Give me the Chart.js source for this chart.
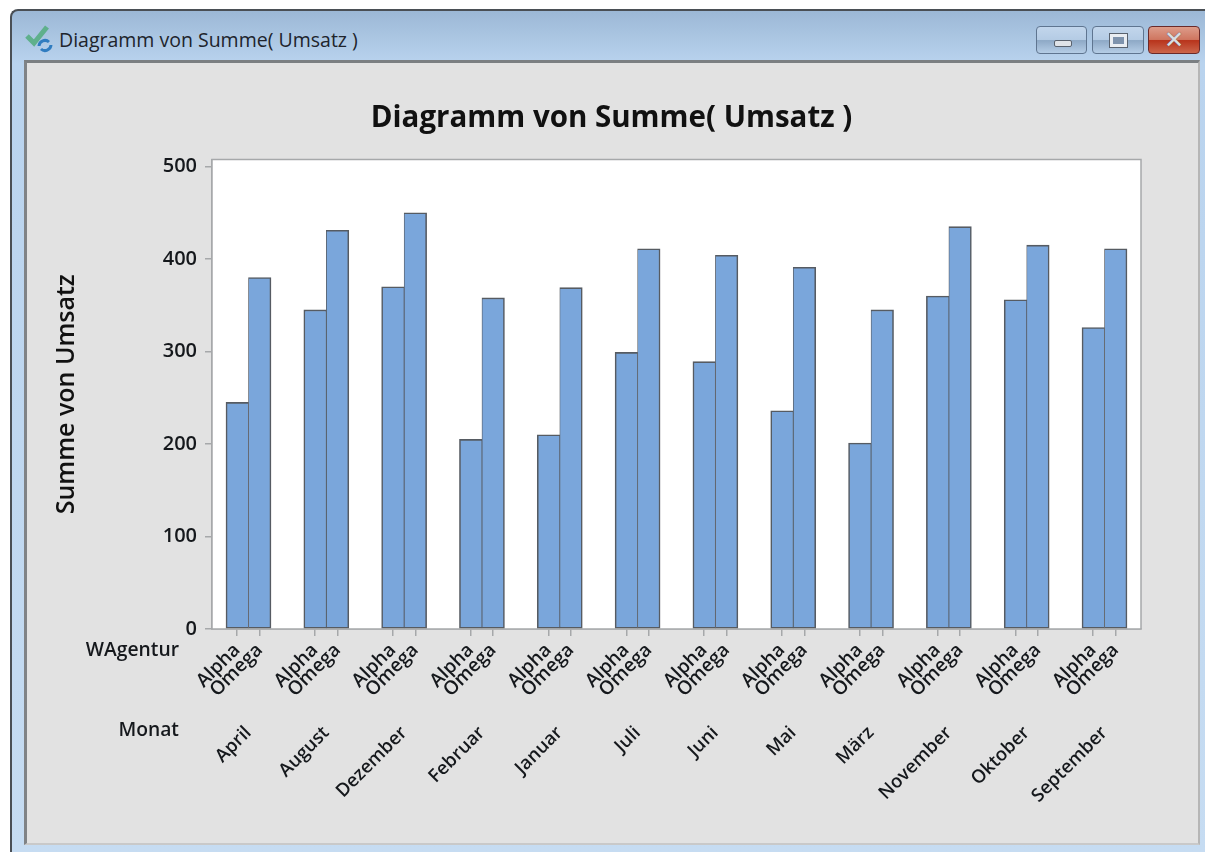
<!DOCTYPE html>
<html><head><meta charset="utf-8">
<script src="https://cdn.jsdelivr.net/npm/chart.js@4/dist/chart.umd.min.js"></script>
<style>
html,body{margin:0;padding:0;background:#fff;width:1205px;height:852px;overflow:hidden;font-family:"Open Sans",sans-serif}
#win{position:absolute;left:10px;top:9px;width:1195px;height:843px;box-sizing:border-box;border:2px solid #4a4f55;border-right:none;border-bottom:none;border-top-left-radius:8px;background:linear-gradient(to bottom,#9cb8d6 0,#b9d3ee 52px,#c6dcf2 100%)}
#pane{position:absolute;left:24px;top:60px;width:1176px;height:785px;box-sizing:border-box;background:#e2e2e2;border-top:3px solid #7b7f82;border-left:3px solid #808386;border-right:2px solid #b6b6b6;border-bottom:2px solid #c9c9c9}
#cap{position:absolute;left:59px;top:28px;font-size:19.5px;line-height:24px;color:#20242c;white-space:nowrap}
#ico{position:absolute;left:25px;top:24px}
.btn{position:absolute;top:26px;height:28px;box-sizing:border-box;border:1px solid #5f7590;border-radius:4px;background:linear-gradient(to bottom,#c2d6ec 0,#b4cbe4 50%,#8ea9c6 52%,#b5cde6 100%)}
.btn i{position:absolute;display:block;box-sizing:border-box}
#b1{left:1036px;width:51px}#b1 i{left:17px;top:13px;width:18px;height:7px;background:#dfe3e8;border:1.5px solid #59626e;border-radius:2px}
#b2{left:1092px;width:52px}#b2 i{left:17px;top:7px;width:17px;height:13px;border:3px solid #e9edf2;outline:1px solid #59626e;background:#7e93ad}
#b3{left:1148px;width:52px;border-color:#6a2a2a;background:linear-gradient(to bottom,#dd9c8a 0,#cf7660 48%,#b8341c 52%,#cc664c 100%)}
#b3 span{position:absolute;left:0;top:-2px;width:100%;text-align:center;font:bold 24px "DejaVu Sans",sans-serif;color:#d9dde2;line-height:30px;text-shadow:0 0 1px #444}
#lblA,#lblM{position:absolute;font-size:19.3px;font-weight:600;color:#15181c;line-height:24px;white-space:nowrap}
#lblA{right:1026px;top:637px}#lblM{right:1026px;top:717px}
canvas{position:absolute;left:0;top:0}
</style></head><body>
<div id="win"></div><div id="pane"></div>
<svg id="ico" width="30" height="30" viewBox="0 0 30 30"><path d="M2 12l7 7L22 3" fill="none" stroke="#5fb08c" stroke-width="5"/><path d="M14 22a6 6 0 0 1 10-4M26 21a6 6 0 0 1-10 4" fill="none" stroke="#2f7cc0" stroke-width="3"/></svg>
<div id="cap">Diagramm von Summe( Umsatz )</div>
<div class="btn" id="b1"><i></i></div><div class="btn" id="b2"><i></i></div><div class="btn" id="b3"><span>✕</span></div>
<canvas id="c" width="1205" height="852"></canvas>
<div id="lblA">WAgentur</div><div id="lblM">Monat</div>
<script>
const months=["April","August","Dezember","Februar","Januar","Juli","Juni","Mai","März","November","Oktober","September"];
const groups=["Alpha","Omega"];
const alpha=[245,345,370,205,210,299,289,236,201,360,356,326];
const omega=[380,431,450,358,369,411,404,391,345,435,415,411];
const yTicks=[0,100,200,300,400,500];
const textCol="#15181c",lineCol="#a6a8aa",barCol="#7aa6db",edgeCol="#565b62";
const font="'Open Sans',sans-serif";
const xMin=-0.469,xMax=11.469,barOff=0.145;
const xRange={type:'linear',min:xMin,max:xMax,offset:false};
new Chart(document.getElementById('c'),{
 type:'bar',
 data:{datasets:[
  {label:groups[0],data:alpha.map((v,i)=>({x:i,y:v})),borderWidth:{left:1.6,top:1.6,bottom:1.6,right:0.8}},
  {label:groups[1],data:omega.map((v,i)=>({x:i,y:v})),borderWidth:{left:0.8,top:1.6,bottom:1.6,right:1.6}}
 ]},
 options:{
  responsive:false,animation:false,
  layout:{padding:{left:52,right:64,top:100.5,bottom:0}},
  elements:{bar:{backgroundColor:barCol,borderColor:edgeCol,borderSkipped:false}},
  datasets:{bar:{barThickness:22.5}},
  plugins:{legend:{display:false},tooltip:{enabled:false},
   title:{display:true,text:"Diagramm von Summe( Umsatz )",color:"#111",font:{family:font,size:29.5,weight:'700'},padding:{top:0,bottom:23.6}}},
  scales:{
   x:{...xRange,position:'bottom',
    afterBuildTicks:s=>{s.ticks=months.flatMap((m,i)=>[{value:i-barOff},{value:i+barOff}]);},
    afterFit:s=>{s.height=85;},
    grid:{offset:false,drawOnChartArea:false,color:lineCol,tickLength:7,lineWidth:1.5},
    border:{color:lineCol,width:1.5},
    ticks:{autoSkip:false,minRotation:45,maxRotation:45,padding:3,color:textCol,font:{family:font,size:19,weight:'600'},callback:(v,i)=>groups[i%2]}
   },
   x2:{...xRange,axis:'x',position:'bottom',
    afterBuildTicks:s=>{s.ticks=months.map((m,i)=>({value:i}));},
    afterFit:s=>{s.height=138;},
    grid:{offset:false,display:false,drawTicks:false},border:{display:false},
    ticks:{autoSkip:false,minRotation:45,maxRotation:45,padding:8,color:textCol,font:{family:font,size:18.5,weight:'600'},callback:(v,i)=>months[i]}
   },
   y:{min:0,max:507.6,position:'left',
    afterBuildTicks:s=>{s.ticks=yTicks.map(v=>({value:v}));},
    afterFit:s=>{s.width=160;},
    grid:{drawOnChartArea:false,color:lineCol,tickLength:7,lineWidth:1.5},
    border:{color:lineCol,width:1.5},
    ticks:{padding:8,color:textCol,font:{family:font,size:20,weight:'600'}},
    title:{display:true,text:"Summe von Umsatz",color:"#111",font:{family:font,size:25,weight:'600'},padding:0}
   }
  }
 },
 plugins:[{id:'frame',
  afterLayout(c){c.titleBlock.left+=15;c.titleBlock.right+=15;},
  beforeDatasetsDraw(c){const a=c.chartArea,t=c.ctx;t.save();t.fillStyle='#fff';t.fillRect(a.left,a.top,a.width,a.height);t.strokeStyle=lineCol;t.lineWidth=1.5;t.strokeRect(a.left,a.top,a.width,a.height);t.restore();}
 }]
});
</script>
</body></html>
